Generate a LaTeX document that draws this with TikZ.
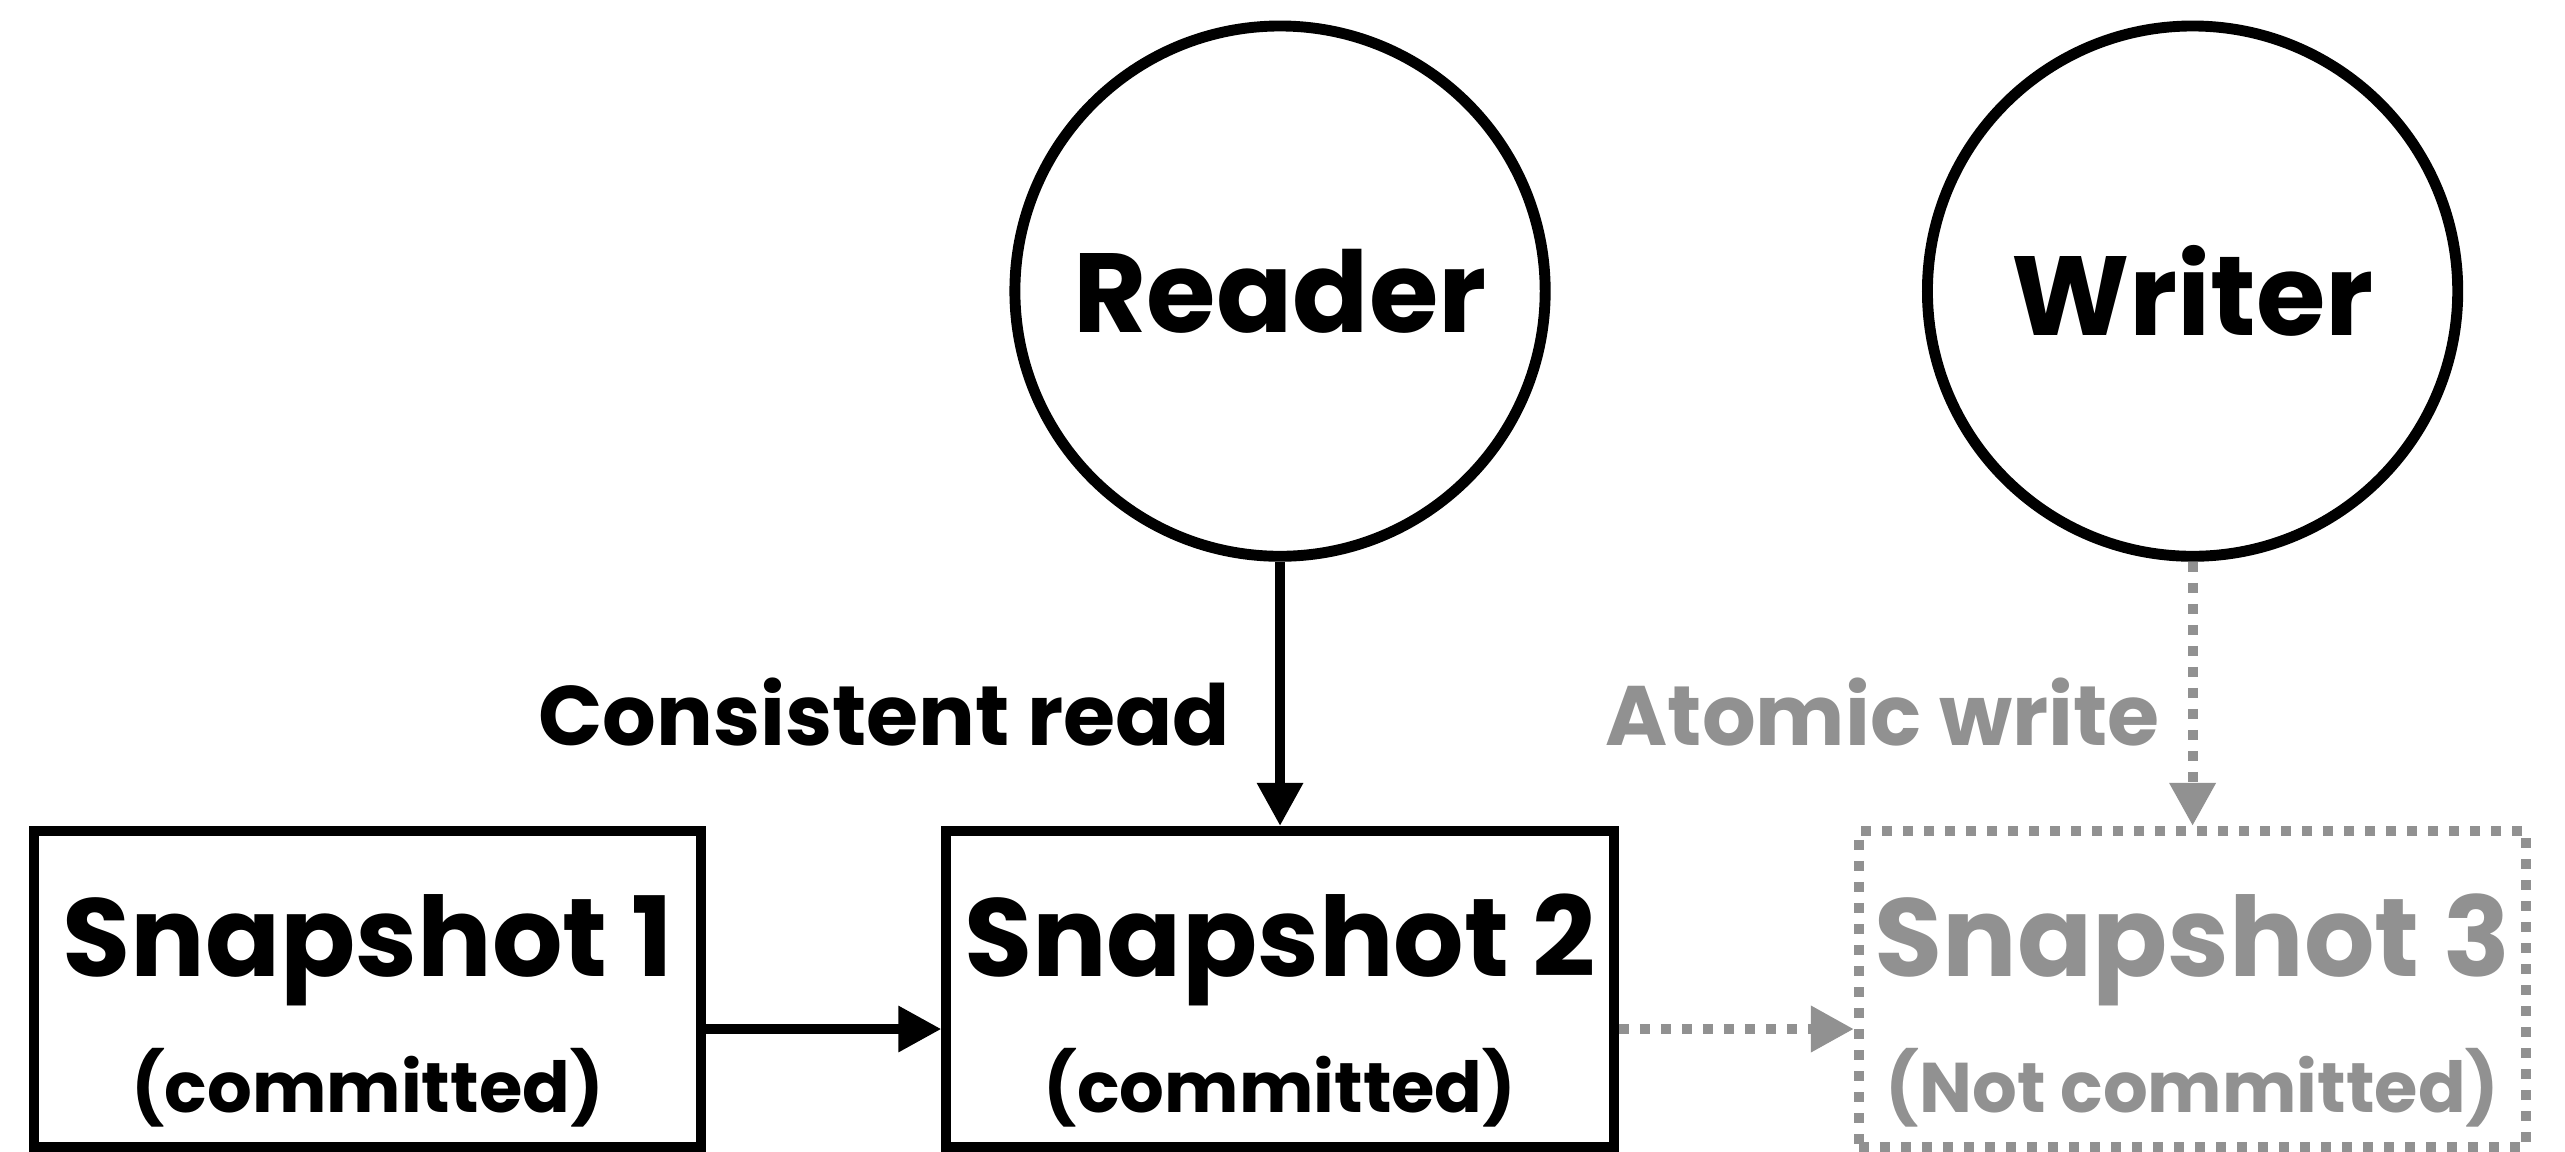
\documentclass[tikz,border=0pt]{standalone}
\usepackage{fontspec}
\setmainfont{Poppins}
\usetikzlibrary{arrows.meta,positioning,calc}
\definecolor{uncommitted}{RGB}{145,145,145}

\tikzset{
  actor/.style={circle,draw,line width=3.1pt,minimum size=5.3cm,inner sep=0pt,
    font=\bfseries\fontsize{32}{36}\selectfont},
  snapbox/.style={rectangle,draw,line width=2.85pt,minimum width=6.67cm,
    minimum height=3.16cm,inner sep=0pt},
  title/.style={anchor=base,inner sep=0pt,font=\bfseries\fontsize{31.5}{36}\selectfont},
  subtitle/.style={anchor=base,inner sep=0pt,font=\bfseries\fontsize{20}{24}\selectfont},
  flowlabel/.style={inner sep=0pt,font=\bfseries\fontsize{24}{28}\selectfont},
  flow/.style={line width=2.7pt,-{Triangle[length=0.43cm,width=0.44cm]}},
  pending/.style={draw=uncommitted,line width=2.85pt,dash pattern=on 0.1cm off 0.11cm},
}

\begin{document}
\begin{tikzpicture}[x=0.01cm,y=-0.01cm]
  \useasboundingbox (0,0) rectangle (2565,1152);

  % snapshots
  \node[snapbox] (s1) at (367.5,989) {};
  \node[snapbox,right=2.35cm of s1] (s2) {};
  \node[snapbox,pending,right=2.35cm of s2] (s3) {};

  \node[title] (s1name) at ($(s1)+(0,-13)$) {Snapshot 1};
  \node[subtitle] (s1state) at ($(s1)+(0,123)$) {(committed)};
  \node[title] (s2name) at ($(s2)+(0,-13)$) {Snapshot 2};
  \node[subtitle] (s2state) at ($(s2)+(0,123)$) {(committed)};
  \node[title,text=uncommitted] (s3name) at ($(s3)+(0,-13)$) {Snapshot 3};
  \node[subtitle,text=uncommitted] (s3state) at ($(s3)+(0,123)$) {(Not committed)};

  % reader and writer
  \node[actor,above=2.64cm of s2] (reader) {Reader};
  \node[actor,above=2.64cm of s3] (writer) {Writer};

  \draw[flow] ([yshift=-0.4cm]s1.east) -- ([yshift=-0.4cm]s2.west);
  \draw[flow,pending] ([yshift=-0.4cm]s2.east) -- ([yshift=-0.4cm]s3.west);

  \draw[flow] (reader) -- node[flowlabel,pos=0.57,left=0.45cm] (readlabel) {Consistent read} (s2);
  \draw[flow,pending] (writer) -- node[flowlabel,text=uncommitted,pos=0.57,left=0.28cm] (writelabel) {Atomic write} (s3);
\end{tikzpicture}
\end{document}
